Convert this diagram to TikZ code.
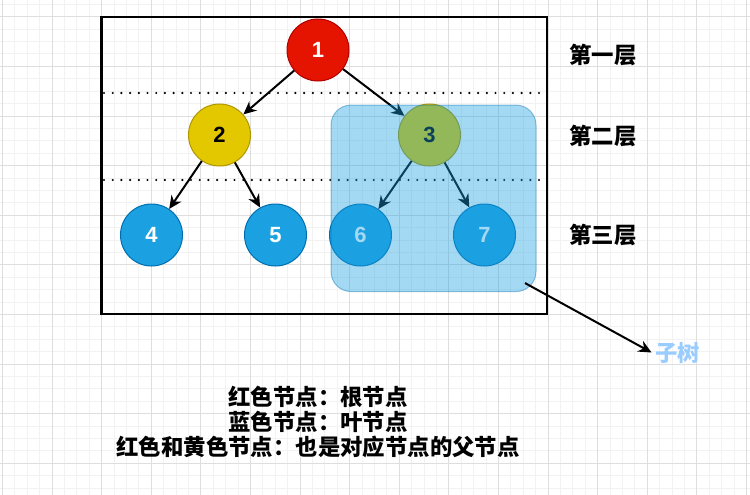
\documentclass[tikz,border=0pt]{standalone}
\usepackage{fontspec}
\setmainfont{Liberation Sans}
\newfontfamily\cjk{Noto Sans CJK SC}
\usetikzlibrary{arrows.meta}
\definecolor{rootfill}{HTML}{E51400}
\definecolor{rootdraw}{HTML}{B20000}
\definecolor{parentfill}{HTML}{E3C800}
\definecolor{parentdraw}{HTML}{B09500}
\definecolor{leaffill}{HTML}{1BA1E2}
\definecolor{leafdraw}{HTML}{006EAF}
\definecolor{subtreetext}{HTML}{99CCFF}
\begin{document}
\begin{tikzpicture}[
            x=1pt, y=-1pt,
            level 1/.style={sibling distance=209pt, level distance=85pt},
            level 2/.style={sibling distance=124pt, level distance=100pt},
            every node/.style={align=center},
            treenode/.style={circle, minimum size=62pt, inner sep=0pt, line width=1pt,
                font=\fontsize{22}{26}\selectfont\bfseries},
            rootnode/.style={treenode, draw=rootdraw, fill=rootfill, text=white},
            parentnode/.style={treenode, draw=parentdraw, fill=parentfill, text=black},
            leafnode/.style={treenode, draw=leafdraw, fill=leaffill, text=white},
            edge from parent/.style={draw, line width=2pt, -{Stealth[length=13pt, width=12pt]}},
            subtreebox/.style={rectangle, rounded corners=20pt, outer sep=0pt,
                minimum width=205pt, minimum height=186.5pt, line width=1pt,
                fill=leaffill, fill opacity=0.4, draw=leafdraw, draw opacity=0.4},
            cjklabel/.style={font=\cjk\fontsize{22.4}{25.2}\selectfont\bfseries},
            minorgrid/.style={draw=black!5, line width=0.8pt},
            majorgrid/.style={draw=black!13, line width=0.8pt}
        ]
        \fill[white] (0,0) rectangle (750,495);
        \useasboundingbox (0,0) rectangle (750,495);
        \foreach \i in {0,...,60} \draw[minorgrid] ({2.4+12.4*\i},0) -- ({2.4+12.4*\i},495);
        \foreach \i in {0,...,39} \draw[minorgrid] (0,{4.3+12.4*\i}) -- (750,{4.3+12.4*\i});
        \foreach \i in {0,...,15} \draw[majorgrid] ({2.4+49.6*\i},0) -- ({2.4+49.6*\i},495);
        \foreach \i in {0,...,9} \draw[majorgrid] (0,{16.7+49.6*\i}) -- (750,{16.7+49.6*\i});

        \draw[line width=2.2pt] (101.5,17.3) rectangle (547.3,314.3);
        \draw[line width=2.4pt, line cap=round, dash pattern=on 0pt off 8.7pt] (104,93) -- (541,93);
        \draw[line width=2.4pt, line cap=round, dash pattern=on 0pt off 8.7pt] (104,180) -- (541,180);

        \node[rootnode] (n1) at (318,50) {1}
        child {node[parentnode, xshift=6pt] (n2) {2}
                child {node[leafnode, xshift=-6pt] (n4) {4}}
                child {node[leafnode, xshift=-6pt] (n5) {5}}
            }
        child {node[parentnode, xshift=7pt] (n3) {3}
                child {node[leafnode, xshift=-7pt] (n6) {6}}
                child {node[leafnode, xshift=-7pt] (n7) {7}}
            };

        \node[subtreebox] (subtree) at (433.5,198.3) {};
        \node[cjklabel, text=subtreetext] (subtreelabel) at (677.5,352.5) {子树};
        \coordinate (subtreetail) at ([shift={(-11,-8.5)}]subtree.south east);
        \draw[line width=2pt, -{Stealth[length=13pt, width=12pt]}] (subtreetail) -- (subtreelabel.west);

        \node[cjklabel] (layer1) at (603,55) {第一层};
        \node[cjklabel] (layer2) at (603,136) {第二层};
        \node[cjklabel] (layer3) at (603,235) {第三层};
        \node[cjklabel] (legend) at (318,422) {红色节点：根节点\\蓝色节点：叶节点\\红色和黄色节点：也是对应节点的父节点};
    \end{tikzpicture}
\end{document}
